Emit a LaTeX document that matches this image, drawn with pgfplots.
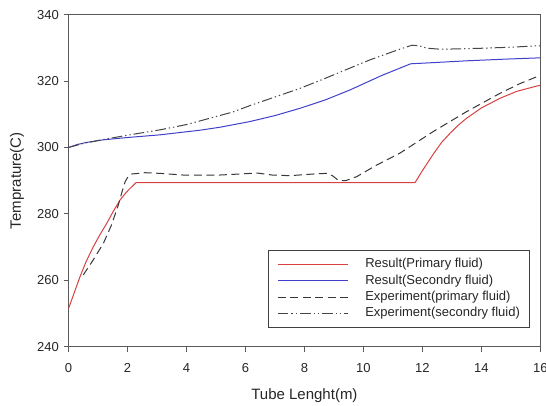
\documentclass[border=0pt]{standalone}
\usepackage{pgfplots}
\pgfplotsset{compat=1.18}
\usepackage{fontspec}
\setmainfont{Liberation Sans}
\definecolor{redline}{RGB}{218,64,64}
\definecolor{blueline}{RGB}{64,64,204}
\definecolor{frame}{RGB}{90,90,90}
\definecolor{dashc}{RGB}{55,55,55}
\definecolor{dotc}{RGB}{70,70,70}
\begin{document}
\begin{tikzpicture}
\begin{axis}[
  at={(0,0)}, anchor=south west,
  scale only axis, width=353.85pt, height=249pt,
  xmin=0, xmax=16, ymin=240, ymax=340,
  xtick={0,2,...,16}, ytick={240,260,...,340},
  tick align=outside, xtick pos=left, ytick pos=left,
  major tick length=3.75pt,
  axis line style={frame, line width=0.8pt},
  every tick/.style={frame, line width=0.8pt},
  /pgf/number format/assume math mode=true,
  tick label style={font=\fontsize{9.75}{11}\selectfont, text=black!85},
  xticklabel style={yshift=-5.5pt},
  xlabel={Tube Lenght(m)}, ylabel={Temprature(C)},
  label style={font=\fontsize{11.25}{13}\selectfont, text=black!85},
  xlabel style={at={(axis description cs:0.5,-0.1488)}, anchor=center},
  ylabel style={at={(axis description cs:-0.109,0.5)}, anchor=center, rotate=0},
  legend cell align=left,
  legend style={at={(0.9767,0.0554)}, anchor=south east,
    draw=black!75, line width=0.6pt,
    font=\fontsize{9.75}{11}\selectfont,
    inner xsep=6.75pt, inner ysep=6pt, row sep=2.9pt, column sep=12.75pt,
    nodes={inner sep=0pt, text height=7.2pt, text depth=2.2pt, text=black!85}},
  legend image code/.code={\draw[#1, line width=0.75pt] (0pt,0pt) -- (52.5pt,0pt);},
  clip=false,
]
\addplot[redline, line width=0.75pt] coordinates {
(0,251.5)(0.2,256.4)(0.39,261.1)(0.6,265.7)(0.84,270.1)(1.07,273.8)(1.30,277.2)
(1.52,280.8)(1.75,284.2)(1.95,286.4)(2.09,287.7)(2.29,289.4)(11.75,289.4)
(12.0,293.0)(12.37,298.0)(12.65,301.5)(12.94,304.3)(13.2,306.6)(13.5,308.8)
(14.0,311.9)(14.63,314.8)(15.2,316.9)(15.88,318.5)(16,318.7)};
\addlegendentry{Result(Primary fluid)}
\addplot[blueline, line width=0.75pt] coordinates {
(0,300)(0.3,300.9)(0.6,301.5)(1.18,302.3)(2,303.0)(3.1,303.8)(4.46,305.2)
(5.14,306.1)(6.15,307.8)(7,309.6)(7.85,311.8)(8.7,314.3)(9.54,317.3)
(10.6,321.6)(11.6,325.2)(12.26,325.5)(13.5,326.1)(14.8,326.6)(16,327.0)};
\addlegendentry{Result(Secondry fluid)}
\addplot[dashc, line width=0.75pt, dash pattern=on 6pt off 3.4pt] coordinates {
(0.5,261.6)(0.85,266.3)(1.18,271.1)(1.45,276.5)(1.69,282.7)(1.82,286.8)
(1.92,289.7)(2.02,291.2)(2.14,292.0)(2.59,292.4)(3.10,292.2)(3.89,291.7)
(5.14,291.7)(5.8,292.0)(6.4,292.3)(6.9,291.7)(7.5,291.5)(8.3,292.0)
(8.75,292.2)(8.95,291.5)(9.15,290.1)(9.4,290.0)(9.77,291.2)(10.45,294.7)
(11.24,298.3)(12.37,304.8)(13.5,310.8)(14.63,316.3)(15.3,319.2)(15.88,321.3)(16,321.5)};
\addlegendentry{Experiment(primary fluid)}
\addplot[dotc, line width=0.75pt, dash pattern=on 8pt off 2.2pt on 1pt off 2.2pt on 1pt off 2.2pt] coordinates {
(0,300)(0.5,301.2)(1.18,302.4)(2.07,303.8)(3.1,305.3)(4.0,306.9)(4.46,308.0)
(5.58,310.7)(6.15,312.6)(7.0,315.2)(7.85,317.8)(8.7,320.8)(9.54,323.9)
(10.2,326.3)(10.79,328.2)(11.3,329.8)(11.65,330.8)(11.9,330.6)(12.15,329.9)
(12.6,329.6)(13.3,329.7)(14.07,329.9)(15,330.2)(15.88,330.6)(16,330.6)};
\addlegendentry{Experiment(secondry fluid)}
\end{axis}
\pgfresetboundingbox
\path[use as bounding box] (-51.4pt,-44.5pt) rectangle (358.1pt,260.0pt);
\end{tikzpicture}
\end{document}
